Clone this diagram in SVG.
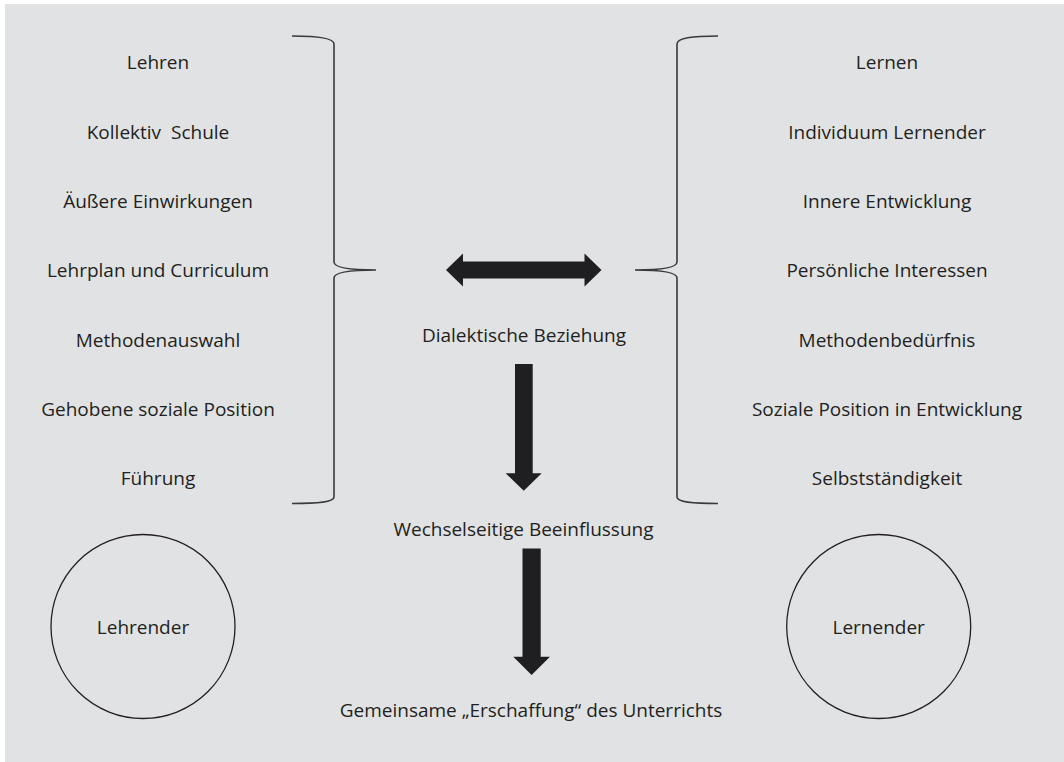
<svg xmlns="http://www.w3.org/2000/svg" width="1064" height="762" viewBox="0 0 1064 762">
<style>
.t{font-family:"Open Sans","Noto Sans","Liberation Sans",sans-serif;font-size:19px;fill:#231f20;text-anchor:middle}
.br{fill:none;stroke:#3a3a3c;stroke-width:1.6}
.ar{fill:#1f1f21}
.c{fill:none;stroke:#231f20;stroke-width:1.3}
</style>
<rect x="0" y="0" width="1064" height="762" fill="#ffffff"/>
<rect x="5" y="4" width="1059" height="758" fill="#e1e2e4"/>
<g id="left-list">
<text class="t" x="158" y="69">Lehren</text>
<text class="t" x="158" y="139" xml:space="preserve">Kollektiv  Schule</text>
<text class="t" x="158" y="208">Äußere Einwirkungen</text>
<text class="t" x="158" y="277">Lehrplan und Curriculum</text>
<text class="t" x="158" y="347">Methodenauswahl</text>
<text class="t" x="158" y="416">Gehobene soziale Position</text>
<text class="t" x="158" y="485">Führung</text>
</g>
<g id="right-list">
<text class="t" x="887" y="69">Lernen</text>
<text class="t" x="887" y="139">Individuum Lernender</text>
<text class="t" x="887" y="208">Innere Entwicklung</text>
<text class="t" x="887" y="277">Persönliche Interessen</text>
<text class="t" x="887" y="347">Methodenbedürfnis</text>
<text class="t" x="887" y="416">Soziale Position in Entwicklung</text>
<text class="t" x="887" y="485">Selbstständigkeit</text>
</g>
<g id="left-brace">
<path class="br" d="M292,36 C318,36 334,38 334,44 V262 C334,267 345,270 376,270 C345,270 334,273 334,278 V497 C334,502 318,503.5 292,503.5"/>
</g>
<g id="right-brace">
<path class="br" d="M718,36 C692,36 677,38 677,44 V262 C677,267 666,270 635,270 C666,270 677,273 677,278 V497 C677,502 692,503.5 718,503.5"/>
</g>
<g id="connectors">
<path class="ar" d="M446,270 L463,253.5 V261.5 H584.5 V253.5 L601.5,270 L584.5,286.5 V278.5 H463 V286.5 Z"/>
<path class="ar" d="M515,364 H532.7 V473.3 H541.7 L523.8,490.7 L505.7,473.3 H515 Z"/>
<path class="ar" d="M522.5,548.5 H540.7 V656.7 H550 L531.6,675 L513.3,656.7 H522.5 Z"/>
</g>
<g id="label-dialektisch"><text class="t" x="524" y="342">Dialektische Beziehung</text></g>
<g id="label-wechsel"><text class="t" x="523.5" y="536">Wechselseitige Beeinflussung</text></g>
<g id="label-gemeinsam"><text class="t" x="531" y="717">Gemeinsame „Erschaffung“ des Unterrichts</text></g>
<g id="lehrender">
<circle class="c" cx="143" cy="626.5" r="92"/>
<text class="t" x="143" y="634">Lehrender</text>
</g>
<g id="lernender">
<circle class="c" cx="878.7" cy="626.5" r="92"/>
<text class="t" x="878.7" y="634">Lernender</text>
</g>
</svg>
